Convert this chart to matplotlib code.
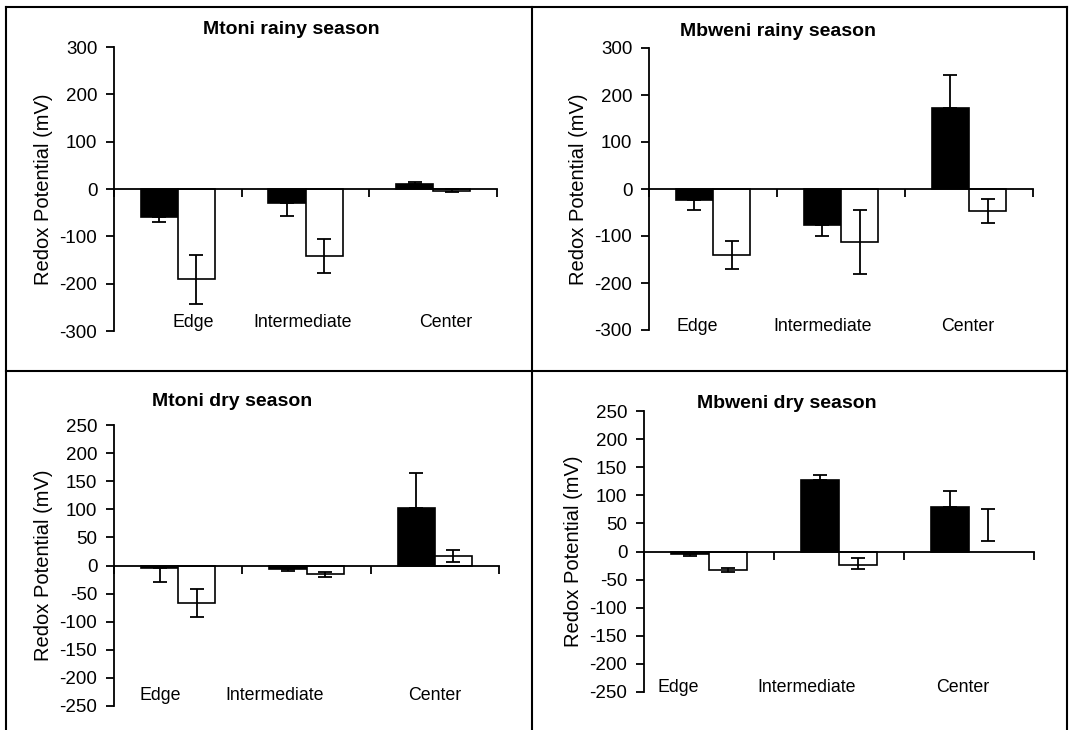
import numpy as np
import matplotlib
matplotlib.use('Agg')
import matplotlib.pyplot as plt
from matplotlib.lines import Line2D

plt.rcParams['font.family'] = ['Liberation Sans', 'DejaVu Sans']
plt.rcParams['axes.unicode_minus'] = False

# Data (mV)
categories = ['Edge', 'Intermediate', 'Center']
titles = ['Mtoni rainy season', 'Mbweni rainy season', 'Mtoni dry season', 'Mbweni dry season']

mtoni_rainy_black = [-60, -30, 10]
mtoni_rainy_black_err = [9, 28, 5]
mtoni_rainy_white = [-191, -142, -4]
mtoni_rainy_white_err = [51, 36, 3]

mbweni_rainy_black = [-23, -76, 172]
mbweni_rainy_black_err = [21, 25, 70]
mbweni_rainy_white = [-141, -112, -47]
mbweni_rainy_white_err = [30, 68, 25]

mtoni_dry_black = [-5, -6, 103]
mtoni_dry_black_err = [25, 3, 61]
mtoni_dry_white = [-66, -16, 17]
mtoni_dry_white_err = [25, 4, 10]

mbweni_dry_black = [-5, 127, 79]
mbweni_dry_black_err = [3, 10, 29]
mbweni_dry_white = [-33, -24, 0]
mbweni_dry_white_err = [3, 10, 29]
# error bar centre of the white series (the Center bar itself is not drawn)
mbweni_dry_white_errmid = [-33, -22, 47]

ylims = [(-300, 300), (-300, 300), (-250, 250), (-250, 250)]
yticks = [np.arange(-300, 301, 100), np.arange(-300, 301, 100),
          np.arange(-250, 251, 50), np.arange(-250, 251, 50)]

panels = [
    (mtoni_rainy_black, mtoni_rainy_black_err, mtoni_rainy_white, mtoni_rainy_white_err, mtoni_rainy_white),
    (mbweni_rainy_black, mbweni_rainy_black_err, mbweni_rainy_white, mbweni_rainy_white_err, mbweni_rainy_white),
    (mtoni_dry_black, mtoni_dry_black_err, mtoni_dry_white, mtoni_dry_white_err, mtoni_dry_white),
    (mbweni_dry_black, mbweni_dry_black_err, mbweni_dry_white, mbweni_dry_white_err, mbweni_dry_white_errmid),
]

# layout (pixels): axes rect left, top, right, bottom; title position; category label positions
rects_px = [(114, 47, 497, 331), (649, 48, 1033, 330), (114, 425, 499, 706), (644, 411, 1034, 692)]
title_xy = [(291, 30), (778, 31), (232, 402), (787, 404)]
label_x = [[0.62, 1.48, 2.60], [0.38, 1.36, 2.49], [0.36, 1.25, 2.50], [0.26, 1.25, 2.45]]
label_y = [-281, -293, -231, -242]

W, H = 1069, 730
fig = plt.figure(figsize=(W / 100, H / 100), dpi=100)

x = np.arange(len(categories)) + 0.5
bw = 0.29

for i, (blk, blk_err, wht, wht_err, wht_mid) in enumerate(panels):
    l, t, r, b = rects_px[i]
    ax = fig.add_axes([l / W, 1 - b / H, (r - l) / W, (b - t) / H])
    ax.bar(x - bw / 2, blk, bw, color='black', edgecolor='black', linewidth=1.2, zorder=2)
    edges = ['black' if v != 0 else 'none' for v in wht]
    ax.bar(x + bw / 2, wht, bw, color='white', edgecolor=edges, linewidth=1.2, zorder=2)

    # black bars only show the outward half of the error bar
    blk = np.array(blk)
    blk_err = np.array(blk_err)
    lower = np.where(blk < 0, blk_err, 0)
    upper = np.where(blk >= 0, blk_err, 0)
    ax.errorbar(x - bw / 2, blk, yerr=[lower, upper], fmt='none', ecolor='black',
                elinewidth=1.3, capsize=5, capthick=1.3, zorder=3)
    ax.errorbar(x + bw / 2, wht_mid, yerr=wht_err, fmt='none', ecolor='black',
                elinewidth=1.3, capsize=5, capthick=1.3, zorder=3)

    ax.set_xlim(0, 3)
    ax.set_ylim(*ylims[i])
    ax.set_yticks(yticks[i])
    ax.spines['top'].set_visible(False)
    ax.spines['right'].set_visible(False)
    ax.spines['bottom'].set_position(('data', 0))
    ax.spines['bottom'].set_zorder(4)
    ax.spines['left'].set_linewidth(1.3)
    ax.spines['bottom'].set_linewidth(1.3)
    ax.set_xticks([0, 1, 2, 3])
    ax.set_xticklabels([])
    ax.tick_params(axis='x', direction='out', length=6, width=1.3)
    ax.tick_params(axis='y', direction='out', length=6, width=1.3, labelsize=13.5, pad=6)
    ax.set_ylabel('Redox Potential (mV)', fontsize=14.5, labelpad=5)
    for xc, name in zip(label_x[i], categories):
        ax.text(xc, label_y[i], name, ha='center', va='center', fontsize=12.8)
    tx, ty = title_xy[i]
    fig.text(tx / W, 1 - ty / H, titles[i], ha='center', va='center',
             fontsize=14, fontweight='bold')

# panel frame lines
def px_line(x0, y0, x1, y1):
    fig.add_artist(Line2D([x0 / W, x1 / W], [1 - y0 / H, 1 - y1 / H], color='black', linewidth=1.5))

px_line(6, 7, 1067, 7)
px_line(6, 7, 6, 730)
px_line(1067, 7, 1067, 730)
px_line(532, 7, 532, 730)
px_line(6, 371, 1067, 371)

fig.savefig('out.png', dpi=100)
